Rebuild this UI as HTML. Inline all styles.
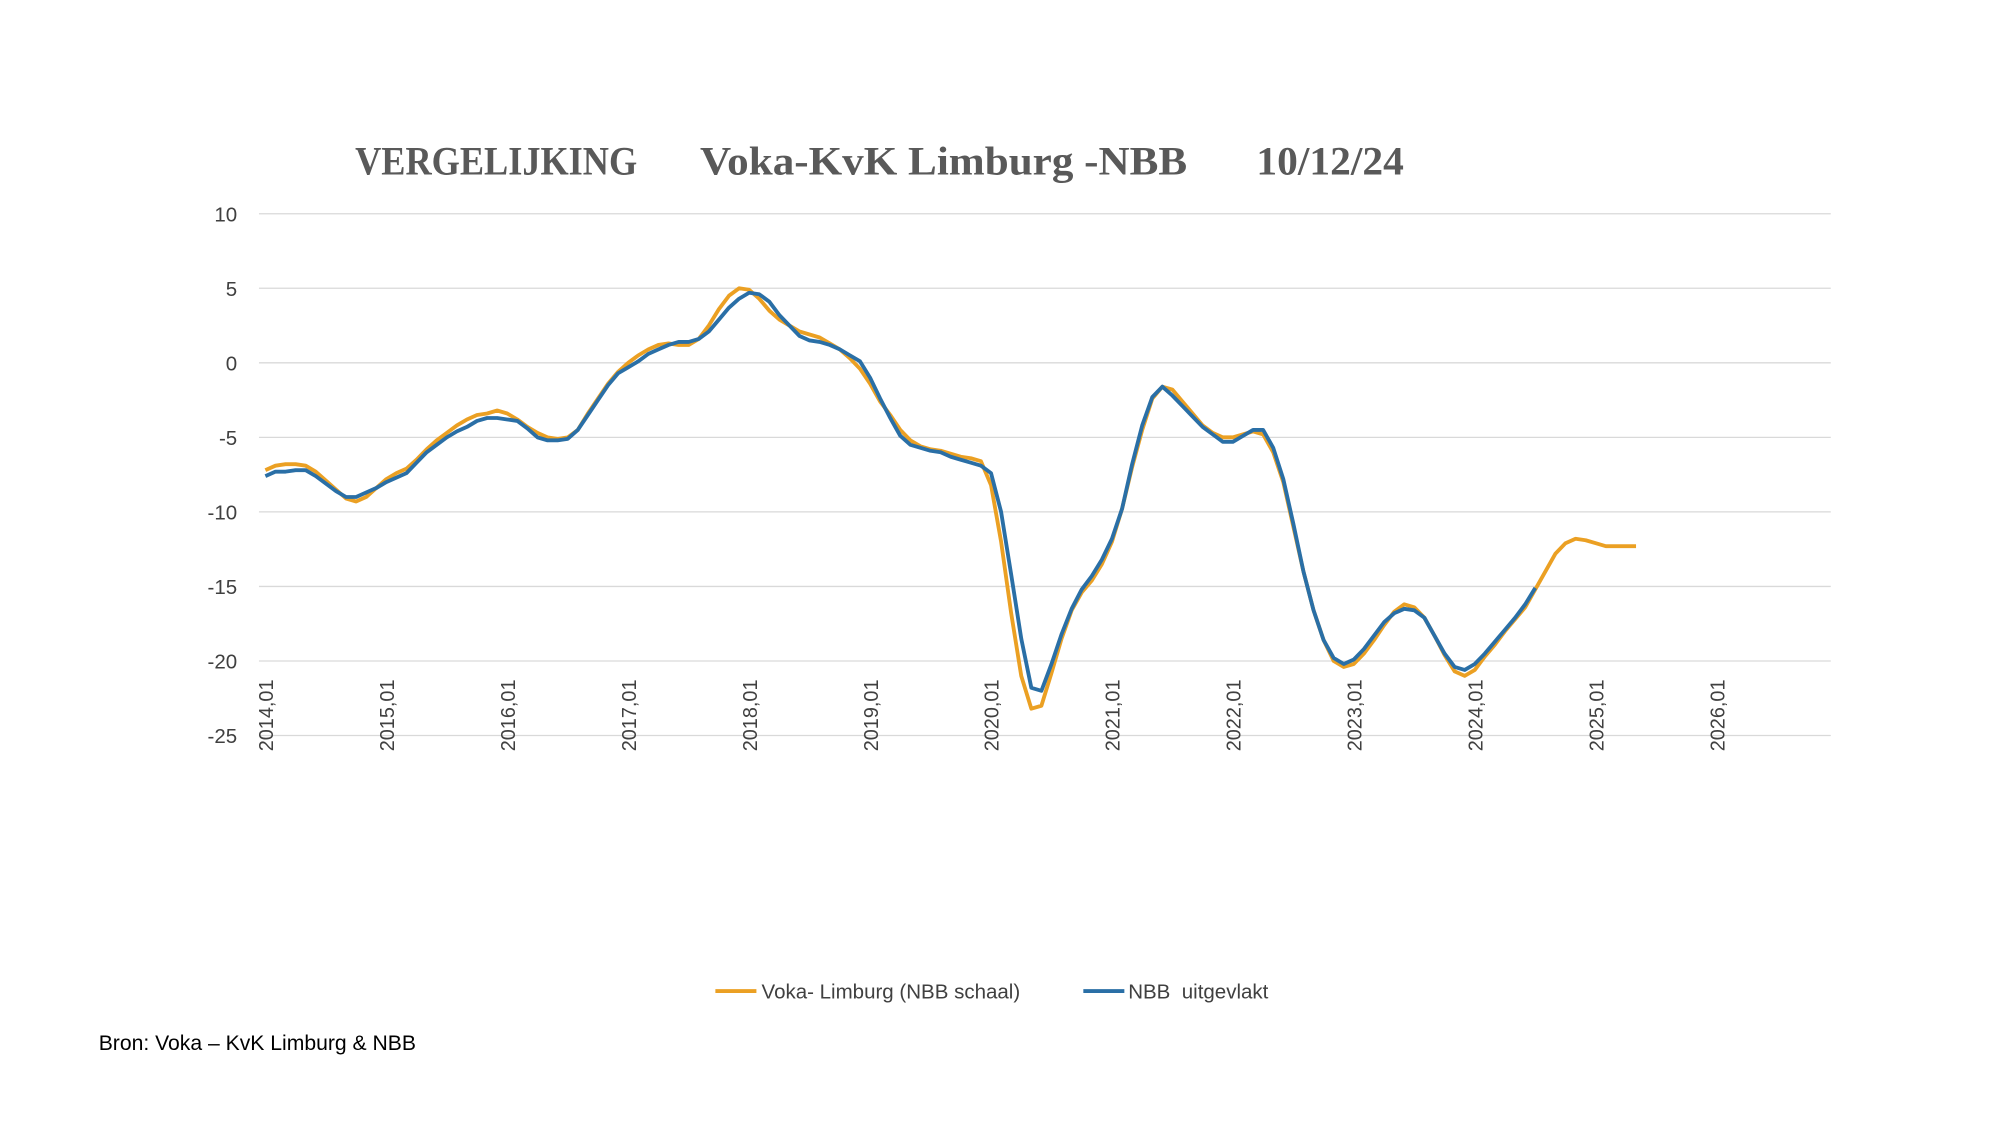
<!DOCTYPE html>
<html><head><meta charset="utf-8"><style>
html,body{margin:0;padding:0;background:#fff;}
svg{display:block;}
text{font-family:"Liberation Sans",sans-serif;}
.ttl{font-family:"Liberation Serif",serif;font-weight:bold;}
</style></head><body>
<svg id="chart" width="2000" height="1125" viewBox="0 0 1560 877.5" xmlns="http://www.w3.org/2000/svg">
<g fill="#595959" font-size="31">
<text class="ttl" x="277" y="136" textLength="220" lengthAdjust="spacingAndGlyphs">VERGELIJKING</text>
<text class="ttl" x="546" y="136" textLength="380" lengthAdjust="spacingAndGlyphs">Voka-KvK Limburg -NBB</text>
<text class="ttl" x="980" y="136" textLength="115" lengthAdjust="spacingAndGlyphs">10/12/24</text>
</g>
<g id="grid"></g>
<g id="yaxis"></g>
<g id="xaxis"></g>
<g id="series"></g>
<g>
<g>
<line x1="558" y1="773" x2="590" y2="773" stroke="#EBA023" stroke-width="3"/>
<text x="594" y="779" font-size="16" fill="#404040">Voka- Limburg (NBB schaal)</text>
</g>
<g>
<line x1="845" y1="773" x2="877" y2="773" stroke="#2A6FA6" stroke-width="3"/>
<text x="880" y="779" font-size="16" fill="#404040" xml:space="preserve">NBB  uitgevlakt</text>
</g>
</g>
<text x="77" y="819" font-size="16.5" fill="#000">Bron: Voka – KvK Limburg &amp; NBB</text>
</svg>
<script>
const yTicks = [10, 5, 0, -5, -10, -15, -20, -25];
const xTickLabels = ["2014,01","2015,01","2016,01","2017,01","2018,01","2019,01","2020,01","2021,01","2022,01","2023,01","2024,01","2025,01","2026,01"];
const vokaValues = [-7.2,-6.9,-6.8,-6.8,-6.9,-7.3,-7.9,-8.5,-9.1,-9.3,-9.0,-8.4,-7.8,-7.4,-7.1,-6.5,-5.8,-5.2,-4.7,-4.2,-3.8,-3.5,-3.4,-3.2,-3.4,-3.8,-4.3,-4.7,-5.0,-5.1,-5.0,-4.5,-3.4,-2.4,-1.4,-0.6,0.0,0.5,0.9,1.2,1.3,1.2,1.2,1.6,2.5,3.6,4.5,5.0,4.9,4.3,3.5,2.9,2.5,2.1,1.9,1.7,1.3,0.9,0.3,-0.4,-1.4,-2.6,-3.5,-4.5,-5.2,-5.6,-5.8,-5.9,-6.1,-6.3,-6.4,-6.6,-8.2,-12.0,-16.8,-21.0,-23.2,-23.0,-20.8,-18.5,-16.6,-15.4,-14.6,-13.5,-12.0,-9.8,-7.0,-4.5,-2.4,-1.6,-1.8,-2.6,-3.4,-4.2,-4.7,-5.0,-5.0,-4.8,-4.6,-4.8,-6.0,-8.0,-11.0,-14.0,-16.6,-18.6,-20.0,-20.4,-20.2,-19.5,-18.6,-17.6,-16.7,-16.2,-16.4,-17.1,-18.3,-19.6,-20.7,-21.0,-20.6,-19.7,-18.9,-18.0,-17.2,-16.4,-15.2,-14.0,-12.8,-12.1,-11.8,-11.9,-12.1,-12.3,-12.3,-12.3,-12.3];
const nbbValues = [-7.6,-7.3,-7.3,-7.2,-7.2,-7.6,-8.1,-8.6,-9.0,-9.0,-8.7,-8.4,-8.0,-7.7,-7.4,-6.7,-6.0,-5.5,-5.0,-4.6,-4.3,-3.9,-3.7,-3.7,-3.8,-3.9,-4.4,-5.0,-5.2,-5.2,-5.1,-4.5,-3.5,-2.5,-1.5,-0.7,-0.3,0.1,0.6,0.9,1.2,1.4,1.4,1.6,2.1,2.9,3.7,4.3,4.7,4.6,4.1,3.2,2.5,1.8,1.5,1.4,1.2,0.9,0.5,0.1,-1.0,-2.4,-3.7,-4.9,-5.5,-5.7,-5.9,-6.0,-6.3,-6.5,-6.7,-6.9,-7.4,-10.0,-14.2,-18.5,-21.8,-22.0,-20.2,-18.2,-16.5,-15.2,-14.3,-13.2,-11.8,-9.8,-6.8,-4.2,-2.3,-1.6,-2.2,-2.9,-3.6,-4.3,-4.8,-5.3,-5.3,-4.9,-4.5,-4.5,-5.7,-7.8,-10.8,-14.0,-16.6,-18.6,-19.8,-20.2,-19.9,-19.2,-18.3,-17.4,-16.8,-16.5,-16.6,-17.1,-18.3,-19.5,-20.4,-20.6,-20.2,-19.5,-18.7,-17.9,-17.1,-16.2,-15.1];

const NS = "http://www.w3.org/2000/svg";
const plotLeft = 202, plotRight = 1428;
const yScale = v => 283 - v * (574 - 167) / 35;
const xScale = m => 207 + m * (1339 - 207) / 144;

const grid = document.getElementById('grid');
const yaxis = document.getElementById('yaxis');
yTicks.forEach(t => {
  const l = document.createElementNS(NS, 'line');
  
  
  l.setAttribute('x1', plotLeft); l.setAttribute('x2', plotRight);
  l.setAttribute('y1', yScale(t)); l.setAttribute('y2', yScale(t));
  l.setAttribute('stroke', '#d9d9d9'); l.setAttribute('stroke-width', '1');
  grid.appendChild(l);
  const tx = document.createElementNS(NS, 'text');
  
  
  tx.setAttribute('x', 185); tx.setAttribute('y', yScale(t) + 6);
  tx.setAttribute('text-anchor', 'end'); tx.setAttribute('font-size', '16'); tx.setAttribute('fill', '#404040');
  tx.textContent = t;
  yaxis.appendChild(tx);
});
const xaxis = document.getElementById('xaxis');
xTickLabels.forEach((lab, i) => {
  const x = xScale(i * 12);
  const tx = document.createElementNS(NS, 'text');
  
  
  tx.setAttribute('transform', `translate(${x + 6},530) rotate(-90)`);
  tx.setAttribute('text-anchor', 'end'); tx.setAttribute('font-size', '15.5'); tx.setAttribute('fill', '#404040');
  tx.textContent = lab;
  xaxis.appendChild(tx);
});
const series = document.getElementById('series');
function drawLine(vals, color, name) {
  const p = document.createElementNS(NS, 'polyline');
  
  
  p.setAttribute('points', vals.map((v, i) => xScale(i).toFixed(2) + ',' + yScale(v).toFixed(2)).join(' '));
  p.setAttribute('fill', 'none'); p.setAttribute('stroke', color);
  p.setAttribute('stroke-width', '3'); p.setAttribute('stroke-linejoin', 'round');
  series.appendChild(p);
}
drawLine(vokaValues, '#EBA023', 'voka-limburg-line');
drawLine(nbbValues, '#2A6FA6', 'nbb-line');
</script>
</body></html>
